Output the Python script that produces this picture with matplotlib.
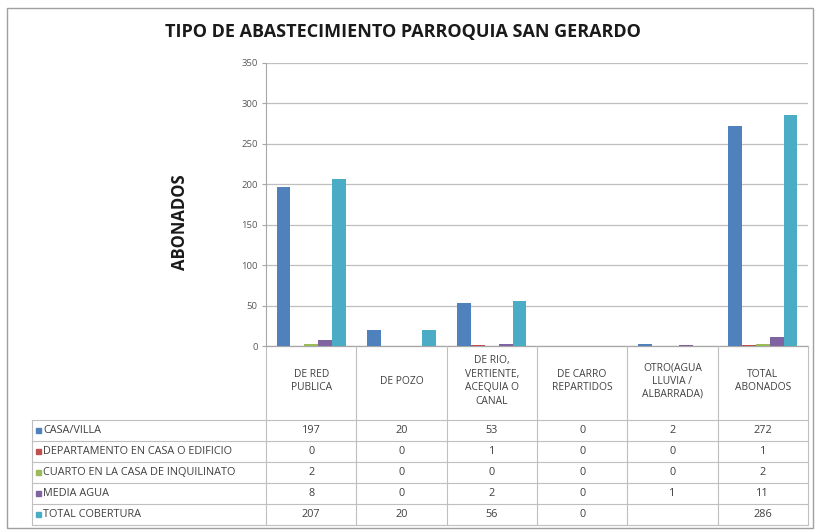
import matplotlib
matplotlib.use("Agg")
import matplotlib.pyplot as plt
import numpy as np

plt.rcParams['font.family'] = ['Open Sans', 'DejaVu Sans']

categories = ["DE RED\nPUBLICA", "DE POZO", "DE RIO,\nVERTIENTE,\nACEQUIA O\nCANAL",
              "DE CARRO\nREPARTIDOS", "OTRO(AGUA\nLLUVIA /\nALBARRADA)", "TOTAL\nABONADOS"]
series_names = ["CASA/VILLA", "DEPARTAMENTO EN CASA O EDIFICIO",
                "CUARTO EN LA CASA DE INQUILINATO", "MEDIA AGUA", "TOTAL COBERTURA"]
casa_villa = [197, 20, 53, 0, 2, 272]
departamento = [0, 0, 1, 0, 0, 1]
cuarto = [2, 0, 0, 0, 0, 2]
media_agua = [8, 0, 2, 0, 1, 11]
total_cobertura = [207, 20, 56, 0, None, 286]
series_values = [casa_villa, departamento, cuarto, media_agua, total_cobertura]
colors = ["#4F81BD", "#C0504D", "#9BBB59", "#8064A2", "#4BACC6"]
yticks = [0, 50, 100, 150, 200, 250, 300, 350]

W, H = 817, 532
fig = plt.figure(figsize=(W / 100, H / 100), dpi=100)

bg = fig.add_axes([0, 0, 1, 1], zorder=0)
bg.set_xlim(0, W)
bg.set_ylim(H, 0)
bg.axis('off')

x0, x1 = 266, 808
y_top, y_zero = 63, 346
grid_c = "#BFBFBF"

ax = fig.add_axes([x0 / W, (H - y_zero) / H, (x1 - x0) / W, (y_zero - y_top) / H], zorder=2)
ax.patch.set_alpha(0)
n = len(categories)
bw = 0.153
xs = np.arange(n)
for i, (vals, c) in enumerate(zip(series_values, colors)):
    v = [np.nan if a is None else a for a in vals]
    ax.bar(xs + (i - 2) * bw, v, width=bw, color=c, zorder=3)
ax.set_xlim(-0.5, n - 0.5)
ax.set_ylim(0, 350)
ax.set_yticks(yticks)
ax.set_yticklabels([str(t) for t in yticks], fontsize=6.8, color="#595959")
ax.set_xticks([])
ax.yaxis.grid(True, color=grid_c, linewidth=0.9)
ax.set_axisbelow(True)
for s in ['top', 'right', 'bottom']:
    ax.spines[s].set_visible(False)
ax.spines['left'].set_color("#A6A6A6")
ax.tick_params(axis='y', length=3, color="#A6A6A6", pad=3)

# outer frame
bg.add_patch(plt.Rectangle((7.5, 8), W - 11, H - 12, fill=False, edgecolor="#A0A0A0", linewidth=1.0))

# title and ylabel
bg.text(403, 32, "TIPO DE ABASTECIMIENTO PARROQUIA SAN GERARDO", ha='center', va='center',
        fontsize=13, fontweight='bold', color='#1a1a1a')
bg.text(180, 222, "ABONADOS", rotation=90, ha='center', va='center', fontsize=12,
        fontweight='bold', color='#1a1a1a')

# table
col_w = (x1 - x0) / n
row_top = 420
row_h = 21
n_rows = len(series_names)
tbl_left = 32
line_c = "#BFBFBF"
table_bottom = row_top + n_rows * row_h
bg.plot([x0, x1], [y_zero, y_zero], color="#A6A6A6", lw=0.9, zorder=1)
for k in range(n + 1):
    xx = x0 + k * col_w
    bg.plot([xx, xx], [y_zero, table_bottom], color=line_c, lw=0.8)
for r in range(n_rows + 1):
    yy = row_top + r * row_h
    bg.plot([tbl_left, x1], [yy, yy], color=line_c, lw=0.8)
bg.plot([tbl_left, tbl_left], [row_top, table_bottom], color=line_c, lw=0.8)

fs = 7.8
for k, cat in enumerate(categories):
    bg.text(x0 + (k + 0.5) * col_w, 381, cat, ha='center', va='center', fontsize=fs - 0.4,
            color="#404040", linespacing=1.3)

for r, (name, vals, c) in enumerate(zip(series_names, series_values, colors)):
    yc = row_top + (r + 0.5) * row_h
    bg.add_patch(plt.Rectangle((36, yc - 2.5), 5, 5, color=c))
    bg.text(43, yc, name, ha='left', va='center', fontsize=fs, color="#404040")
    for k, v in enumerate(vals):
        if v is None:
            continue
        bg.text(x0 + (k + 0.5) * col_w, yc, str(v), ha='center', va='center', fontsize=fs,
                color="#404040")

fig.savefig("out.png", dpi=100)
